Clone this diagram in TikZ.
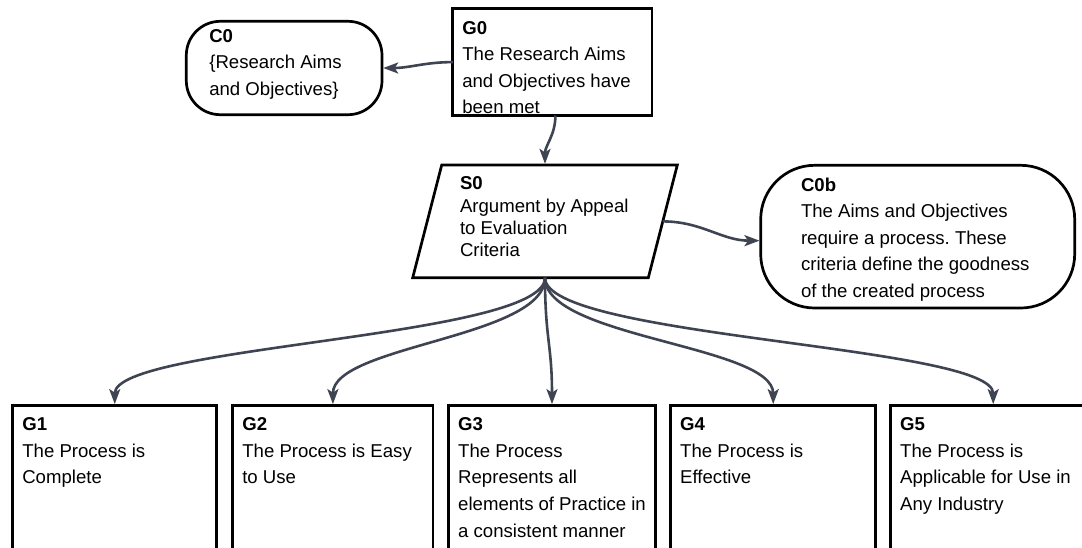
\documentclass[tikz,border=0pt]{standalone}
\usepackage{fontspec}
\setmainfont{Liberation Sans}
\usetikzlibrary{arrows.meta}
\definecolor{linkgrey}{HTML}{3E4451}
\newcommand{\gsntext}[3]{\parbox[c][#2][t]{#1}{\raggedright\frenchspacing#3}}

\begin{document}
\begin{tikzpicture}[x=1pt,y=1pt,
  every node/.style={font=\fontsize{18.6pt}{26.6pt}\selectfont},
  goalbox/.style={draw, line width=2.7pt, anchor=north west, outer sep=0pt,
    inner xsep=9.5pt, inner ysep=12.4pt},
  ctxbox/.style={goalbox, rounded corners=#1},
  stratbox/.style={outer sep=0pt, inner sep=0pt,
    minimum width=235.6pt, minimum height=112.7pt,
    font=\fontsize{18.6pt}{22.3pt}\selectfont},
  gsnlink/.style={draw=linkgrey, line width=2.6pt, shorten >=1.2pt,
    -{Stealth[length=15pt,width=11pt,inset=3.5pt]}}]
\useasboundingbox (0,0) rectangle (1082,-547);

\node[goalbox] (g0) at (452.8,-8.7)
  {\gsntext{180.2pt}{82pt}{\textbf{G0}\\The Research Aims\\and Objectives have\\been met}};
\node[ctxbox=34pt, inner xsep=23pt, inner ysep=8pt] (c0) at (186.3,-21.3)
  {\gsntext{149.7pt}{77.4pt}{\textbf{C0}\\\{Research Aims\\and Objectives\}}};
\node[stratbox] (s0) at (545,-221.4)
  {\gsntext{170pt}{88.8pt}{\textbf{S0}\\Argument by Appeal\\to Evaluation\\Criteria}};
\draw[line width=2.7pt] ([xshift=14.5pt]s0.north west) -- ([xshift=14.5pt]s0.north east)
  -- ([xshift=-14.5pt]s0.south east) -- ([xshift=-14.5pt]s0.south west) -- cycle;
\node[ctxbox=54pt, inner xsep=40.3pt] (c0b) at (760.7,-165.3)
  {\gsntext{233.4pt}{117.9pt}{\textbf{C0b}\\The Aims and Objectives\\require a process. These\\criteria define the goodness\\of the created process}};

\node[goalbox] (g1) at (12.8,-405.3)
  {\gsntext{184.9pt}{135.2pt}{\textbf{G1}\\The Process is\\Complete}};
\node[goalbox] (g2) at (232.8,-405.3)
  {\gsntext{181.2pt}{135.2pt}{\textbf{G2}\\The Process is Easy\\to Use}};
\node[goalbox] (g3) at (448.7,-405.3)
  {\gsntext{187.6pt}{135.2pt}{\textbf{G3}\\The Process\\Represents all\\elements of Practice in\\a consistent manner}};
\node[goalbox] (g4) at (670.7,-405.3)
  {\gsntext{186pt}{135.2pt}{\textbf{G4}\\The Process is\\Effective}};
\node[goalbox] (g5) at (890.7,-405.3)
  {\gsntext{186pt}{135.2pt}{\textbf{G5}\\The Process is\\Applicable for Use in\\Any Industry}};

\draw[gsnlink] (g0.west) to[out=180,in=0] (c0.east);
\draw[gsnlink] ([xshift=3pt]g0.south) to[out=-90,in=90] (s0.north);
\draw[gsnlink] (s0.east) to[out=0,in=180] ([yshift=-4pt]c0b.west);
\foreach \g in {g1,g2,g3,g4,g5}
  \draw[gsnlink] (s0.south) to[out=-90,in=90,distance=60pt] (\g.north);
\end{tikzpicture}
\end{document}
